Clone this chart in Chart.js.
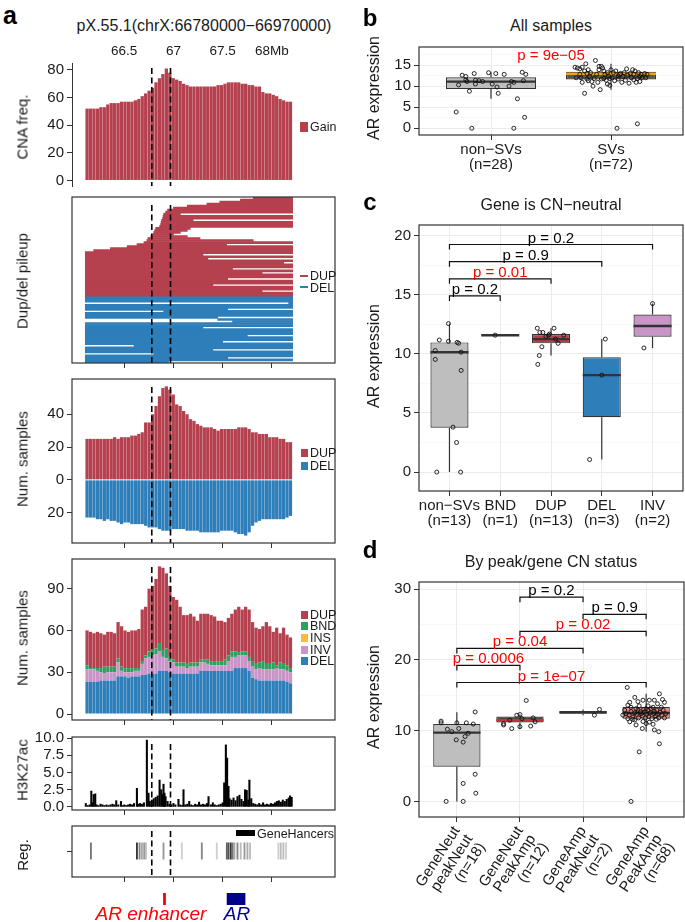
<!DOCTYPE html>
<html><head><meta charset="utf-8">
<script src="https://cdn.jsdelivr.net/npm/chart.js@4.4.1/dist/chart.umd.min.js"></script>
<style>
html,body{margin:0;padding:0;background:#fff;width:685px;height:922px;overflow:hidden;font-family:'Liberation Sans',Arial,Helvetica,sans-serif;}
#root{position:relative;width:685px;height:922px;overflow:hidden;}
.t{position:absolute;white-space:nowrap;line-height:1;}
.r{position:absolute;}
canvas{position:absolute;}
</style></head><body><div id="root"></div>
<script>
// ---------------- DATA ----------------
// Panel a: genomic bins (Mb, bin centres)
const bins = [66.123,66.158,66.193,66.228,66.263,66.298,66.333,66.368,66.403,66.438,66.473,66.508,66.543,66.578,66.613,66.648,66.683,66.718,66.753,66.788,66.823,66.858,66.893,66.928,66.963,66.998,67.033,67.068,67.103,67.138,67.173,67.208,67.243,67.278,67.313,67.348,67.383,67.418,67.453,67.488,67.523,67.558,67.593,67.628,67.663,67.698,67.733,67.768,67.803,67.838,67.873,67.908,67.943,67.978,68.013,68.048,68.083,68.118,68.153,68.188];
const mbTicks = [66.5, 67, 67.5, 68];
const mbTickLabels = ['66.5', '67', '67.5', '68Mb'];
const peakBounds = [66.78, 66.97];
const cnaFreq = [52,52,52,52,53,53,55,56,56,56,57,57,57,57,58,59,61,63,65,67,71,74,77,81,78,74,73,72,70,69,68,68,68,68,68,68,68,68,69,69,70,71,71,71,71,70,70,69,69,68,68,64,63,63,62,61,59,58,57,57];
// Dup/del pileup rows [start, end] in Mb, top to bottom
const dupRows = [[67.81,68.21],[67.68,68.21],[67.47,68.21],[67.34,68.21],[67.14,68.21],[67.00,68.21],[66.94,68.21],[66.92,68.21],[66.90,67.07],[66.895,68.21],[66.89,68.21],[66.88,67.20],[66.875,68.21],[66.87,68.21],[66.86,68.21],[66.82,67.17],[66.81,67.14],[66.80,67.07],[66.79,67.00],[66.77,67.14],[66.74,67.27],[66.73,67.81],[66.70,68.21],[66.63,67.54],[66.53,68.21],[66.36,68.21],[66.19,68.21],[66.105,68.21],[66.105,67.30],[66.105,68.21],[66.105,67.35],[66.105,68.21],[66.105,68.12],[66.105,68.21],[66.105,68.21],[66.105,67.60],[66.105,68.21],[66.105,67.90],[66.105,68.21],[66.105,68.21],[66.105,67.55],[66.105,68.21],[66.105,68.21],[66.105,67.40],[66.105,68.21],[66.105,68.21],[66.105,67.90],[66.105,68.21],[66.105,68.21]];
const delRows = [[66.105,68.21],[66.105,68.21],[66.105,68.21],[68.17,68.21],[66.105,68.21],[66.105,68.21],[66.105,67.55],[66.90,68.21],[66.105,68.21],[66.105,68.21],[66.105,67.45],[67.45,68.21],[67.60,68.21],[66.105,68.21],[66.105,68.21],[66.105,67.30],[66.105,68.21],[66.105,68.21],[66.105,68.21],[66.105,67.75],[66.105,68.21],[66.105,68.21],[66.105,67.50],[66.105,68.21],[66.60,68.21],[66.105,68.21],[66.105,67.40],[66.105,68.21],[66.80,68.21],[66.105,68.21],[66.105,67.55],[66.105,68.21],[66.105,66.95]];
// Num. samples DUP / DEL
const dupCounts = [25,25,25,25,25,25,25,25,26,25,26,26,26,27,27,28,29,35,35,40,45,51,56,57,55,52,46,45,42,40,37,36,34,33,32,32,32,31,30,31,31,31,31,31,32,32,32,31,29,29,28,28,28,26,26,26,25,25,23,23];
const delCounts = [23,23,23,24,24,25,24,25,25,26,27,26,26,27,27,27,27,28,29,29,29,30,31,31,31,30,30,30,30,31,31,31,31,32,32,32,32,32,32,31,31,31,31,32,33,33,34,32,28,26,25,24,24,24,24,24,24,24,23,22];
// Num. samples by SV type
const svDEL = [23,23,23,23,24,24,24,24,24,27,27,27,26,27,27,27,28,28,29,29,29,31,31,31,30,29,29,29,29,29,29,29,29,31,31,31,31,31,31,31,31,31,31,33,33,33,33,31,26,25,24,24,24,24,24,24,24,24,23,22];
const svINV = [9,9,9,8,6,5,6,6,6,10,4,3,4,3,4,4,8,12,12,13,14,14,10,9,8,8,5,5,5,4,5,5,5,6,6,5,4,4,4,4,4,7,10,8,9,9,9,7,8,7,9,8,8,8,8,9,8,8,8,8];
const svINS = [0,0,0,0,0,0,0,0,0,0,0,0,0,0,0,0,0,0,0,0,0,0,0,0,0,0,0,0,0,0,0,0,0,0,0,0,0,0,0,0,0,0,0,0,0,0,0,0,0,0,0,0,0,0,0,0,0,0,0,0];
const svBND = [3,1,1,2,3,5,4,4,4,3,3,3,3,3,2,2,2,2,4,4,4,6,5,7,3,2,3,3,3,3,3,3,3,2,2,3,3,3,3,3,4,4,4,4,2,3,3,3,4,4,4,6,4,4,5,2,5,4,4,3];
const svDUP = [25,26,25,26,25,23,25,25,24,26,29,27,26,27,27,28,37,35,45,46,50,55,59,54,51,45,45,40,34,35,35,33,30,33,33,33,33,32,29,29,27,27,27,30,33,30,32,34,28,26,24,25,30,27,22,27,21,26,22,22];
// H3K27ac signal
const h3Pos = [66.11,66.13,66.15,66.166,66.18,66.19,66.206,66.22,66.24,66.26,66.28,66.30,66.32,66.34,66.36,66.38,66.40,66.419,66.44,66.467,66.48,66.50,66.52,66.54,66.56,66.58,66.60,66.629,66.64,66.66,66.68,66.70,66.73,66.747,66.76,66.78,66.80,66.82,66.84,66.859,66.876,66.89,66.899,66.909,66.92,66.94,66.96,66.98,67.00,67.02,67.051,67.07,67.09,67.102,67.12,67.14,67.16,67.18,67.20,67.22,67.24,67.26,67.28,67.30,67.32,67.34,67.356,67.38,67.40,67.42,67.44,67.46,67.48,67.50,67.515,67.532,67.545,67.559,67.57,67.59,67.61,67.63,67.65,67.67,67.69,67.71,67.727,67.744,67.76,67.771,67.79,67.81,67.83,67.85,67.87,67.89,67.91,67.93,67.95,67.97,67.99,68.01,68.03,68.05,68.07,68.09,68.11,68.13,68.15,68.17,68.184,68.20];
const h3Val = [0.5,0.2,0.3,2.3,0.6,1.8,1.9,0.3,0.2,0.4,0.3,0.2,0.3,0.2,0.3,0.4,0.3,0.9,0.3,0.8,0.2,0.3,0.2,0.3,0.4,0.3,0.5,2.7,0.4,0.5,0.4,0.6,9.7,2.0,0.8,1.0,1.2,1.4,1.6,3.9,2.5,1.8,3.3,2.0,1.5,0.8,0.4,0.3,0.5,0.3,1.1,0.3,0.2,2.5,0.3,0.4,0.8,0.3,0.2,0.4,0.3,0.7,0.3,0.4,0.3,0.5,1.5,0.3,0.6,0.3,0.2,0.3,0.4,0.6,3.5,9.0,7.1,3.0,1.2,1.0,1.3,0.9,1.5,1.7,1.1,0.8,2.5,2.4,1.0,3.9,1.2,0.5,0.4,0.3,0.5,0.3,0.6,0.3,0.4,0.3,0.5,0.4,0.6,0.8,0.9,0.7,1.0,0.8,1.1,1.3,1.6,1.4];
// GeneHancer elements (position Mb, score 0-1)
const regPos = [66.162,66.629,66.656,66.680,66.703,66.720,66.899,67.085,67.288,67.440,67.542,67.559,67.582,67.602,67.619,67.650,67.683,67.721,67.751,67.778,68.065,68.089,68.116,68.143];
const regScore = [0.6,0.95,0.5,0.3,0.4,0.2,0.4,0.1,0.5,0.1,0.7,0.8,0.95,0.6,0.3,0.5,0.2,0.4,0.3,0.2,0.1,0.2,0.2,0.1];
const enhancerSpan = [66.898, 66.920];
const arGeneSpan = [67.544, 67.727];

// Panel b
const bNonVal = [3.86,0,10.3,12.6,12.3,11.5,11.1,8.8,13.0,11.4,10.5,11.3,11.1,13.2,10.5,13.0,9.8,8.3,12.8,10.0,11.1,0,10.9,7.0,13.3,11.3,2.6,12.8];
const bNonJit = [-0.29,-0.16,-0.27,-0.24,-0.21,-0.21,-0.20,-0.18,-0.14,-0.13,-0.13,-0.10,-0.07,-0.02,0.01,0.04,0.05,0.06,0.11,0.15,0.17,0.19,0.19,0.22,0.26,0.27,0.28,0.29];
const bSVVal = [14.5,12.0,14.3,14.1,12.8,12.0,10.9,14.5,13.6,8.3,15.3,13.0,11.7,11.3,13.9,12.3,13.2,11.1,10.0,11.8,16.1,12.8,10.9,13.9,14.7,9.17,11.7,14.7,14.3,13.6,11.8,12.8,11.4,10.5,13.2,12.4,11.8,10.2,13.9,12.0,13.2,11.3,13.6,0,12.4,11.7,12.8,13.0,10.9,12.3,13.2,11.4,14.1,12.6,10.7,13.0,12.0,13.9,11.5,12.8,13.6,10.9,1.06,11.8,13.2,12.3,11.1,12.8,12.0,13.0,12.0,12.8];
const bSVJit = [-0.30,-0.29,-0.28,-0.26,-0.26,-0.25,-0.24,-0.24,-0.22,-0.22,-0.21,-0.20,-0.20,-0.19,-0.19,-0.18,-0.17,-0.16,-0.15,-0.14,-0.13,-0.12,-0.11,-0.10,-0.10,-0.09,-0.08,-0.08,-0.07,-0.06,-0.06,-0.05,-0.04,-0.03,-0.03,-0.02,-0.01,-0.01,0,0.01,0.02,0.03,0.04,0.05,0.06,0.06,0.07,0.08,0.09,0.10,0.11,0.12,0.13,0.14,0.15,0.16,0.17,0.18,0.19,0.19,0.20,0.21,0.22,0.22,0.23,0.24,0.24,0.25,0.26,0.28,0.29,0.30];
const bStats = [[7.0,9.3,11.07,12.1,13.3],[9.17,11.6,12.95,13.4,15.3]]; // lo,q1,med,q3,hi
const bCats = ['non−SVs', 'SVs'];
const bPLabel = 'p = 9e−05';

// Panel c
const cCats = ['non−SVs', 'BND', 'DUP', 'DEL', 'INV'];
const cVals = [[11.17,10.28,9.53,12.56,11.06,10.97,10.9,10.14,8.6,3.8,2.5,0,0],[11.58],[12.17,11.81,11.81,11.47,11.58,11.67,12.17,11.25,10.89,11.58,10.6,9.86,9.11],[11.25,8.2,1.06],[14.25,10.5]];
const cJit = [[-0.2,-0.28,-0.28,-0.02,-0.02,0.15,0.18,0.23,0.23,0.07,0.14,-0.25,0.22],[-0.1],[-0.27,-0.22,-0.16,-0.1,-0.05,-0.03,0.06,0.09,0.14,0.25,-0.18,-0.23,-0.26],[0.07,0,-0.24],[0,-0.17]];
const cStats = [[0,3.75,10.14,10.97,12.56],[11.58,11.58,11.58,11.58,11.58],[9.86,10.89,11.25,11.67,12.17],[1.06,4.64,8.2,9.72,11.25],[10.5,11.45,12.36,13.33,14.25]];
const cPairs = [[1,2],[1,3],[1,4],[1,5]];
const cPVal = [0.2, 0.01, 0.9, 0.2];
const cPText = ['0.2', '0.01', '0.9', '0.2'];

// Panel d
const dCats = [['GeneNeut','peakNeut'],['GeneNeut','PeakAmp'],['GeneAmp','PeakNeut'],['GeneAmp','PeakAmp']];
const dVals = [[11.34,11.1,10.2,9.86,10.3,8.7,8.38,9.17,9.63,11.1,11.1,10.93,12.64,3.84,2.54,1.16,0,0],
  [11.0,10.8,11.48,12.18,12.27,10.56,11.7,14.26,10.65,11.8,11.25,10.3],
  [12.18,13.0],
  [16.1,15.2,14.7,14.1,14.0,14.3,14.3,14.3,14.4,14.0,13.6,13.3,13.5,13.5,13.3,13.3,11.25,11.5,11.3,11.0,11.2,10.9,10.3,10.1,9.86,8.15,7.0,12.9,12.4,12.2,12.7,11.9,12.5,13.1,12.3,11.8,12.7,12.4,12.1,13.0,12.6,11.8,12.3,12.9,12.0,12.5,13.1,11.7,12.4,12.7,12.1,12.9,12.3,11.8,12.6,12.2,12.9,12.4,12.2,11.7,11.6,12.9,13.1,11.6,11.8,10.8,13.8,0]];
const dJit = [[-0.25,-0.25,-0.15,-0.08,0.03,-0.01,0.1,0.13,0.18,0,0.15,0.26,0.29,0.29,0.1,0.3,-0.17,0.1],
  [-0.26,-0.26,-0.16,-0.05,0,0,0.03,0.1,0.17,0.21,0.24,-0.13],
  [0.18,0.26],
  [-0.30,0.21,-0.18,-0.13,-0.26,-0.05,0.05,0.13,0.26,0.29,-0.29,-0.24,-0.11,0.03,0.11,0.24,-0.26,-0.18,-0.05,0,0.05,0.11,-0.06,0.13,0.2,0.21,-0.11,-0.34,-0.32,-0.27,-0.24,-0.21,-0.18,-0.16,-0.15,-0.12,-0.09,-0.08,-0.06,-0.04,-0.03,-0.01,0.01,0.03,0.04,0.06,0.08,0.09,0.12,0.13,0.15,0.17,0.18,0.2,0.22,0.25,0.27,0.31,-0.37,-0.29,-0.21,-0.13,0,0.16,0.29,-0.16,0.18,-0.24]];
const dStats = [[0,4.9,9.72,10.93,12.6],[10.3,11.15,11.48,12.0,12.27],[12.18,12.38,12.58,12.79,13.0],[9.86,11.67,12.5,13.33,15.2]];
const dPairs = [[1,4],[1,2],[1,3],[2,4],[3,4],[2,3]];
const dPVal = [1e-7, 0.0006, 0.04, 0.02, 0.9, 0.2];
const dPText = ['1e−07', '0.0006', '0.04', '0.02', '0.9', '0.2'];

// ---------------- STYLE / HELPERS ----------------
const FONT = "'Liberation Sans', Arial, Helvetica, sans-serif";
Chart.defaults.font.family = FONT;
Chart.defaults.color = '#1a1a1a';
const C = {dup:'#B5404E', del:'#2E7EBA', bnd:'#2CA25F', ins:'#FDB93A', inv:'#C994C7', grey:'#BEBEBE', frame:'#333333'};
const XMIN = 65.97, XMAX = 68.64;
const root = document.getElementById('root');

function txt(s, x, y, o = {}) {
  const d = document.createElement('div');
  d.className = 't'; d.textContent = s;
  d.style.fontSize = (o.size || 15) + 'px';
  if (o.bold) d.style.fontWeight = 'bold';
  if (o.italic) d.style.fontStyle = 'italic';
  d.style.color = o.color || '#1a1a1a';
  d.style.left = x + 'px'; d.style.top = y + 'px';
  const ax = (o.ax !== undefined) ? o.ax : -50;
  d.style.transform = `translate(${ax}%,-50%)` + (o.rot ? ` rotate(${o.rot}deg)` : '');
  root.appendChild(d);
}
function rect(x, y, w, h, col) {
  const d = document.createElement('div'); d.className = 'r';
  Object.assign(d.style, {left:x+'px', top:y+'px', width:w+'px', height:h+'px', background:col});
  root.appendChild(d);
}

const framePlugin = { id:'frame', afterDraw(ch, a, o) {
  if (!o || !o.color) return;
  const {left, top, right, bottom} = ch.chartArea, g = ch.ctx;
  g.save(); g.strokeStyle = o.color; g.lineWidth = o.width || 1;
  g.strokeRect(left, top, right - left, bottom - top); g.restore();
}};
const vlinePlugin = { id:'vlines', afterDatasetsDraw(ch, a, o) {
  if (!o || !o.values) return;
  const {top, bottom} = ch.chartArea, g = ch.ctx, x = ch.scales.x;
  g.save(); g.strokeStyle = '#000'; g.lineWidth = 1.6; g.setLineDash([6, 3.5]);
  o.values.forEach(v => { const px = x.getPixelForValue(v); g.beginPath(); g.moveTo(px, top + (o.inset || 5)); g.lineTo(px, bottom); g.stroke(); });
  g.restore();
}};
const boxPlugin = { id:'boxes',
  beforeDatasetDraw(ch, args, o) {
    if (!o || !o.stats || args.index !== o.ds) return;
    const meta = ch.getDatasetMeta(o.ds), y = ch.scales.y, g = ch.ctx;
    g.save(); g.strokeStyle = '#333'; g.lineWidth = 1.2;
    meta.data.forEach((el, i) => {
      const s = o.stats[i];
      g.beginPath();
      g.moveTo(el.x, y.getPixelForValue(s[0])); g.lineTo(el.x, y.getPixelForValue(s[1]));
      g.moveTo(el.x, y.getPixelForValue(s[3])); g.lineTo(el.x, y.getPixelForValue(s[4]));
      g.stroke();
    });
    g.restore();
  },
  afterDatasetDraw(ch, args, o) {
    if (!o || !o.stats || args.index !== o.ds) return;
    const meta = ch.getDatasetMeta(o.ds), y = ch.scales.y, g = ch.ctx;
    g.save(); g.lineWidth = 2.4;
    meta.data.forEach((el, i) => {
      const py = y.getPixelForValue(o.stats[i][2]);
      g.strokeStyle = o.med[i]; g.beginPath();
      g.moveTo(el.x - el.width / 2, py); g.lineTo(el.x + el.width / 2, py); g.stroke();
    });
    g.restore();
  }
};
const bracketPlugin = { id:'brackets', afterDatasetsDraw(ch, a, o) {
  if (!o || !o.items) return;
  const x = ch.scales.x, y = ch.scales.y, g = ch.ctx;
  g.save(); g.font = '15px ' + FONT; g.textAlign = 'center';
  o.items.forEach(it => {
    const xa = x.getPixelForValue(it.a), xb = x.getPixelForValue(it.b), yp = y.getPixelForValue(it.y);
    if (it.line) {
      g.strokeStyle = '#111'; g.lineWidth = 1.2; g.beginPath();
      g.moveTo(xa, yp + 5); g.lineTo(xa, yp); g.lineTo(xb, yp); g.lineTo(xb, yp + 5); g.stroke();
      g.textBaseline = 'alphabetic'; g.fillStyle = it.color; g.fillText(it.text, (xa + xb) / 2, yp - 2);
    } else {
      g.textBaseline = 'middle'; g.fillStyle = it.color; g.fillText(it.text, (xa + xb) / 2, yp);
    }
  });
  g.restore();
}};
Chart.register(framePlugin, vlinePlugin, boxPlugin, bracketPlugin);

function mk(plot, m, cfg) {
  const pad = 8, T = m.T || 0, B = m.B || 0, L = m.L || 0;
  const left = plot[0] - L - pad, top = plot[1] - T - pad;
  const w = plot[2] - plot[0] + L + 2 * pad, h = plot[3] - plot[1] + T + B + 2 * pad;
  const c = document.createElement('canvas');
  c.width = w; c.height = h;
  Object.assign(c.style, {left:left+'px', top:top+'px', width:w+'px', height:h+'px'});
  root.appendChild(c);
  cfg.options = cfg.options || {};
  Object.assign(cfg.options, {responsive:false, animation:false, events:[], devicePixelRatio:1, maintainAspectRatio:false});
  cfg.options.layout = {padding:{left:pad, right:pad, top:pad, bottom:pad}};
  cfg.options.plugins = Object.assign({legend:{display:false}, tooltip:{enabled:false}}, cfg.options.plugins || {});
  return new Chart(c, cfg);
}
function genomeX(B) {
  return { type:'linear', min:XMIN, max:XMAX, offset:false,
    afterBuildTicks: s => { s.ticks = mbTicks.map(v => ({value:v})); },
    ticks:{display:false, autoSkip:false},
    grid:{display:true, offset:false, drawOnChartArea:false, drawTicks:true, tickLength:5, color:'#333', lineWidth:1},
    border:{display:false}, afterFit: s => { s.height = B; } };
}
function leftY(min, max, ticks, fmt, size, axisLine, stacked) {
  return { type:'linear', min, max, stacked: !!stacked,
    afterBuildTicks: s => { s.ticks = ticks.map(v => ({value:v})); },
    ticks:{autoSkip:false, callback: v => fmt(v), font:{size}, color:'#1a1a1a', padding:3},
    grid:{display:true, drawOnChartArea:false, drawTicks:true, tickLength:5, color:'#333', lineWidth:1},
    border:{display:!!axisLine, color:'#333', width:1},
    afterFit: s => { s.width = 42; } };
}
const pts = (xs, ys) => xs.map((x, i) => ({x, y: ys[i]}));
const BP = 0.95;

// ---------------- PANEL a ----------------
txt('a', 10, 15, {size:25, bold:true, color:'#000'});
txt('pX.55.1(chrX:66780000−66970000)', 204, 26, {size:16});

// a1: CNA freq
mk([72, 63, 335, 190], {L:42, T:22}, {
  type:'bar',
  data:{datasets:[{label:'Gain', data:pts(bins, cnaFreq), backgroundColor:C.dup, barPercentage:BP, categoryPercentage:1}]},
  options:{scales:{
    x:{type:'linear', position:'top', min:XMIN, max:XMAX, offset:false,
       afterBuildTicks: s => { s.ticks = mbTicks.map(v => ({value:v})); },
       ticks:{autoSkip:false, maxRotation:0, callback:(v, i) => mbTickLabels[i], font:{size:13.5}, padding:4},
       grid:{display:false, drawTicks:false, offset:false}, border:{display:false}, afterFit: s => { s.height = 22; }},
    y:leftY(-4, 85, [0,20,40,60,80], v => String(v), 15, true)
  }, plugins:{vlines:{values:peakBounds, inset:5}}}
});
txt('CNA freq.', 22, 127, {size:15, rot:-90});
rect(300, 122, 8, 10, C.dup); txt('Gain', 310, 127, {size:12.5, ax:0});

// a2: pileup
const pileLabels = dupRows.map((r, i) => 'dup' + i).concat(delRows.map((r, i) => 'del' + i));
mk([72, 197, 335, 363], {L:42, B:6}, {
  type:'bar',
  data:{labels:pileLabels, datasets:[
    {label:'DUP', data:dupRows.concat(delRows.map(() => null)), backgroundColor:C.dup, grouped:false, barPercentage:1, categoryPercentage:1},
    {label:'DEL', data:dupRows.map(() => null).concat(delRows), backgroundColor:C.del, grouped:false, barPercentage:1, categoryPercentage:1}
  ]},
  options:{indexAxis:'y', scales:{
    x:genomeX(6),
    y:{type:'category', ticks:{display:false}, grid:{display:false}, border:{display:false}, afterFit: s => { s.width = 42; }}
  }, plugins:{frame:{color:C.frame, width:1.2}, vlines:{values:peakBounds, inset:8}}}
});
txt('Dup/del pileup', 22, 281, {size:15, rot:-90});
rect(300, 275, 8, 2, C.dup); txt('DUP', 310, 276, {size:12.5, ax:0});
rect(300, 286, 8, 2, C.del); txt('DEL', 310, 288, {size:12.5, ax:0});

// a3: DUP / DEL counts
mk([72, 375, 335, 543], {L:42, B:6}, {
  type:'bar',
  data:{datasets:[
    {label:'DUP', data:pts(bins, dupCounts), backgroundColor:C.dup, barPercentage:BP, categoryPercentage:1},
    {label:'DEL', data:pts(bins, delCounts.map(v => -v)), backgroundColor:C.del, barPercentage:BP, categoryPercentage:1}
  ]},
  options:{scales:{
    x:Object.assign(genomeX(6), {stacked:true}),
    y:leftY(-38.5, 61.5, [-20,0,20,40], v => String(Math.abs(v)), 15, false, true)
  }, plugins:{frame:{color:C.frame, width:1.2}, vlines:{values:peakBounds, inset:8}}}
});
txt('Num. samples', 22, 459, {size:15, rot:-90});
rect(301, 449, 7, 8, C.dup); txt('DUP', 310, 453, {size:12.5, ax:0});
rect(301, 462, 7, 8, C.del); txt('DEL', 310, 466, {size:12.5, ax:0});

// a4: by SV type
mk([72, 555, 335, 720], {L:42, B:6}, {
  type:'bar',
  data:{datasets:[
    {label:'DEL', data:pts(bins, svDEL), backgroundColor:C.del, barPercentage:BP, categoryPercentage:1},
    {label:'INV', data:pts(bins, svINV), backgroundColor:C.inv, barPercentage:BP, categoryPercentage:1},
    {label:'INS', data:pts(bins, svINS), backgroundColor:C.ins, barPercentage:BP, categoryPercentage:1},
    {label:'BND', data:pts(bins, svBND), backgroundColor:C.bnd, barPercentage:BP, categoryPercentage:1},
    {label:'DUP', data:pts(bins, svDUP), backgroundColor:C.dup, barPercentage:BP, categoryPercentage:1}
  ]},
  options:{scales:{
    x:Object.assign(genomeX(6), {stacked:true}),
    y:leftY(-4.3, 111.3, [0,30,60,90], v => String(v), 15, false, true)
  }, plugins:{frame:{color:C.frame, width:1.2}, vlines:{values:peakBounds, inset:8}}}
});
txt('Num. samples', 22, 638, {size:15, rot:-90});
[['DUP',C.dup],['BND',C.bnd],['INS',C.ins],['INV',C.inv],['DEL',C.del]].forEach((e, i) => {
  const cy = 614.7 + i * 11.65;
  rect(301, cy - 4, 7, 8, e[1]); txt(e[0], 310, cy, {size:12.5, ax:0});
});

// a5: H3K27ac
mk([72, 733, 335, 810], {L:42, B:6}, {
  type:'bar',
  data:{datasets:[{label:'H3K27ac', data:pts(h3Pos, h3Val), backgroundColor:'#000', barThickness:1.4}]},
  options:{scales:{
    x:genomeX(6),
    y:leftY(-0.45, 10.15, [0,2.5,5,7.5,10], v => v.toFixed(1), 15, false)
  }, plugins:{frame:{color:C.frame, width:1.2}, vlines:{values:peakBounds, inset:7}}}
});
txt('H3K27ac', 22, 770, {size:15, rot:-90});

// a6: Reg.
const regCol = regScore.map(s => { const g = Math.round(225 - s * 180); return `rgb(${g},${g},${g})`; });
mk([72, 822, 335, 877], {L:42, B:6}, {
  type:'bar',
  data:{datasets:[{label:'GeneHancers', data:regPos.map(x => ({x, y:[0.35, 0.67]})), backgroundColor:regCol, barThickness:1.2}]},
  options:{scales:{
    x:genomeX(6),
    y:leftY(0, 1, [0.5], v => '', 15, false)
  }, plugins:{frame:{color:C.frame, width:1.2}, vlines:{values:peakBounds, inset:0}}}
});
txt('Reg.', 22, 855, {size:15, rot:-90});
rect(236, 830, 19, 6, '#000'); txt('GeneHancers', 257, 834, {size:12.5, ax:0});

// a7: annotation (enhancer / AR gene)
mk([72, 893, 335, 905], {L:0}, {
  type:'bar',
  data:{labels:['AR'], datasets:[
    {label:'AR enhancer', data:[enhancerSpan], backgroundColor:'#FF0000', grouped:false, barPercentage:1, categoryPercentage:1},
    {label:'AR', data:[arGeneSpan], backgroundColor:'#00008B', grouped:false, barPercentage:1, categoryPercentage:1}
  ]},
  options:{indexAxis:'y', scales:{
    x:{type:'linear', min:XMIN, max:XMAX, display:false},
    y:{type:'category', display:false}
  }}
});
txt('AR enhancer', 151, 913, {size:19, italic:true, color:'#FF0000'});
txt('AR', 237, 913, {size:19, italic:true, color:'#00008B'});

// ---------------- PANELS b, c, d ----------------
function boxPanel(plot, B, groups, cats, yMin, yMax, major, minor, items, rot, lineH) {
  const majorSet = new Set(major), n = groups.length;
  return mk(plot, {L:30, B}, {
    type:'bar',
    data:{datasets:[
      {type:'scatter', order:0, data:groups.flatMap((g, gi) => g.vals.map((v, k) => ({x:gi + 1 + g.jit[k], y:v}))),
       pointRadius:2, pointBorderWidth:0.9, pointBorderColor:'#111', pointBackgroundColor:'rgba(255,255,255,0)'},
      {type:'bar', order:1, data:groups.map((g, i) => ({x:i + 1, y:[g.stats[1], g.stats[3]]})),
       backgroundColor:groups.map(g => g.fill), borderColor:'#333', borderWidth:1.2, borderSkipped:false,
       barPercentage:0.75, categoryPercentage:1}
    ]},
    options:{scales:{
      x:{type:'linear', min:0.4, max:n + 0.6, offset:false,
         afterBuildTicks: s => { s.ticks = groups.map((g, i) => ({value:i + 1})); },
         ticks:{autoSkip:false, callback:(v, i) => cats[i], font:{size:15, lineHeight:lineH}, color:'#1a1a1a', maxRotation:rot, minRotation:rot, padding:2},
         grid:{offset:false, color:'#EBEBEB', lineWidth:1, tickLength:5, tickColor:'#333', drawTicks:true},
         border:{display:false}, afterFit: s => { s.height = B; }},
      y:{type:'linear', min:yMin, max:yMax,
         afterBuildTicks: s => { s.ticks = major.concat(minor).sort((a, b) => a - b).map(v => ({value:v})); },
         ticks:{autoSkip:false, callback: v => majorSet.has(v) ? String(v) : '', font:{size:15}, color:'#1a1a1a', padding:3},
         grid:{color: c => majorSet.has(c.tick.value) ? '#EBEBEB' : '#F5F5F5', lineWidth: c => majorSet.has(c.tick.value) ? 1 : 0.7,
               tickLength:5, tickColor: c => majorSet.has(c.tick.value) ? '#333' : 'rgba(0,0,0,0)', drawTicks:true},
         border:{display:false}, afterFit: s => { s.width = 30; }}
    }, plugins:{frame:{color:C.frame, width:1.2},
      boxes:{ds:1, stats:groups.map(g => g.stats), med:groups.map(g => g.med)},
      brackets:{items}}}
  });
}
const pColor = p => p < 0.05 ? '#FF0000' : '#000';

// b
txt('b', 370, 18, {size:24, bold:true, color:'#000'});
txt('All samples', 551, 26, {size:16});
txt('AR expression', 374, 88, {size:16, rot:-90});
boxPanel([419, 43, 683, 135], 45,
  [{vals:bNonVal, jit:bNonJit, stats:bStats[0], fill:C.grey, med:'#333'},
   {vals:bSVVal, jit:bSVJit, stats:bStats[1], fill:'#5C5648', med:'#F2A413'}],
  [[bCats[0], `(n=${bNonVal.length})`], [bCats[1], `(n=${bSVVal.length})`]],
  -1.6, 19.3, [0,5,10,15], [2.5,7.5,12.5,17.5],
  [{a:1, b:2, y:17.3, text:bPLabel, color:pColor(9e-5), line:false}], 0, 1.0);

// c
txt('c', 370, 202, {size:24, bold:true, color:'#000'});
txt('Gene is CN−neutral', 551, 205, {size:16});
txt('AR expression', 374, 356, {size:16, rot:-90});
const cFills = [C.grey, '#333333', C.dup, C.del, C.inv];
boxPanel([419, 221, 683, 491], 45,
  cVals.map((v, i) => ({vals:v, jit:cJit[i], stats:cStats[i], fill:cFills[i], med:'#333'})),
  cCats.map((c, i) => [c, `(n=${cVals[i].length})`]),
  -1.6, 20.9, [0,5,10,15,20], [2.5,7.5,12.5,17.5],
  cPairs.map((p, k) => ({a:p[0], b:p[1], y:14.9 + k * 1.45, text:'p = ' + cPText[k], color:pColor(cPVal[k]), line:true})), 0, 1.0);

// d
txt('d', 370, 550, {size:24, bold:true, color:'#000'});
txt('By peak/gene CN status', 551, 562, {size:16});
txt('AR expression', 374, 697, {size:16, rot:-90});
const dFills = [C.grey, '#4A4A4A', '#3A3A3A', '#F08377'];
const dMeds = ['#333', '#D03030', '#333', '#333'];
boxPanel([419, 578, 684, 817], 82,
  dVals.map((v, i) => ({vals:v, jit:dJit[i], stats:dStats[i], fill:dFills[i], med:dMeds[i]})),
  dCats.map((c, i) => [c[0], c[1], `(n=${dVals[i].length})`]),
  -2.2, 31.0, [0,10,20,30], [5,15,25],
  dPairs.map((p, k) => ({a:p[0], b:p[1], y:16.8 + k * 2.41, text:'p = ' + dPText[k], color:pColor(dPVal[k]), line:true})), 57, 1.0);
</script></body></html>
